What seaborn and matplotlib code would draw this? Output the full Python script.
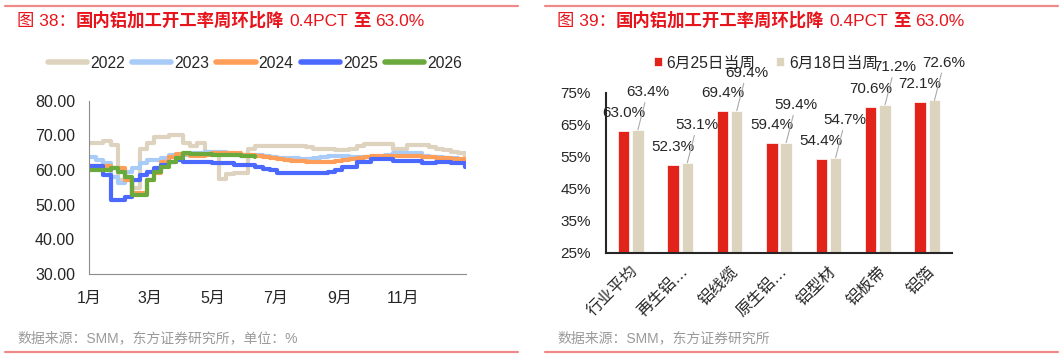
import matplotlib.pyplot as plt
from matplotlib.lines import Line2D
import numpy as np
import pandas as pd
import seaborn as sns

# weekly operating rate (%), one value per week from 1 Jan
years = ['2022', '2023', '2024', '2025', '2026']
rate_2022 = [67.7, 67.7, 68.5, 67.2, 57.1, 57.1, 54.8, 66.2, 67.7, 69.6,
             69.6, 70.1, 70.1, 67.7, 66.9, 67.9, 65.3, 65.3, 57.3, 58.8,
             59.2, 59.0, 66.2, 66.9, 67.0, 67.0, 67.0, 67.0, 66.9, 66.8,
             66.7, 66.2, 66.2, 66.0, 65.8, 65.8, 66.2, 67.0, 67.4, 67.4,
             67.4, 67.4, 66.2, 66.2, 67.2, 67.2, 67.2, 66.7, 66.2, 65.8,
             65.1, 64.8, 63.7]
rate_2023 = [63.7, 62.9, 61.9, 58.0, 56.2, 59.5, 60.5, 61.9, 62.9, 62.9,
             63.4, 64.3, 64.3, 64.3, 64.8, 64.8, 65.3, 65.3, 65.3, 64.8,
             64.3, 64.3, 64.3, 64.3, 64.0, 63.8, 63.6, 63.4, 63.4, 63.2,
             63.2, 63.4, 63.7, 64.0, 64.0, 64.0, 63.8, 63.8, 63.8, 63.8,
             63.9, 64.3, 64.8, 64.8, 64.8, 64.8, 64.0, 63.8, 63.8, 63.6,
             63.5, 63.0, 62.0]
rate_2024 = [61.2, 61.2, 61.2, 60.5, 60.5, 57.1, 53.3, 53.3, 57.1, 59.0,
             62.4, 63.8, 64.6, 64.6, 64.0, 64.0, 64.4, 64.8, 64.8, 64.8,
             64.8, 64.3, 64.3, 64.0, 63.8, 63.4, 63.1, 62.9, 62.7, 62.5,
             62.4, 62.4, 62.4, 62.4, 62.7, 62.9, 63.2, 63.6, 63.8, 64.0,
             64.0, 64.0, 64.0, 64.0, 64.0, 64.0, 63.9, 63.8, 63.6, 63.6,
             63.3, 63.1, 62.2]
rate_2025 = [61.2, 61.2, 58.5, 51.3, 51.3, 52.3, 57.1, 58.6, 59.5, 60.5,
             61.4, 62.4, 62.9, 62.4, 62.4, 62.4, 62.4, 61.9, 61.9, 61.9,
             61.4, 61.4, 61.4, 60.8, 60.4, 60.0, 59.0, 59.0, 59.0, 59.0,
             59.0, 59.0, 59.0, 59.5, 60.0, 61.0, 61.0, 62.4, 62.4, 63.1,
             63.1, 63.1, 62.7, 62.7, 62.7, 62.7, 61.9, 61.9, 62.4, 62.4,
             61.9, 61.9, 61.0]
rate_2026 = [60.0, 60.0, 60.0, 60.5, 59.5, 58.0, 52.8, 52.8, 57.1, 59.5,
             61.0, 62.4, 63.4, 65.0, 64.6, 64.6, 64.6, 64.3, 64.3, 64.3,
             64.3, 64.0, 64.0, 63.8]
line_colors = ['#DDD3BE', '#A9CBF8', '#FF9E58', '#4B69FF', '#6AAA3C']
month_ticks = [0, 59, 120, 181, 243, 304]
month_labels = ['1月', '3月', '5月', '7月', '9月', '11月']

# bar chart: operating rate by segment (%)
categories = ['行业平均', '再生铝…', '铝线缆', '原生铝…', '铝型材', '铝板带', '铝箔']
week_labels = ['6月25日当周', '6月18日当周']
rate_0625 = [63.0, 52.3, 69.4, 59.4, 54.4, 70.6, 72.1]
rate_0618 = [63.4, 53.1, 69.4, 59.4, 54.7, 71.2, 72.6]
bar_colors = ['#E2231A', '#DDD4BF']

RED = '#E8141C'
sns.set_style('white')
plt.rcParams['font.family'] = ['Liberation Sans', 'Noto Sans CJK SC']
plt.rcParams['axes.unicode_minus'] = False

series = [rate_2022, rate_2023, rate_2024, rate_2025, rate_2026]
rows = []
for year, vals in zip(years, series):
    for i, v in enumerate(vals):
        rows.append({'day': i * 7, 'rate': v, 'year': year})
df_lines = pd.DataFrame(rows)

df_bars = pd.DataFrame({
    'segment': categories * 2,
    'rate': rate_0625 + rate_0618,
    'week': [week_labels[0]] * len(categories) + [week_labels[1]] * len(categories),
})

W, H = 1061, 358
fig = plt.figure(figsize=(W / 100, H / 100), dpi=100)

# ---- left: line chart ----
ax1 = fig.add_axes([89 / W, 1 - 274 / H, (466 - 89) / W, (274 - 100.7) / H])
sns.lineplot(data=df_lines, x='day', y='rate', hue='year', palette=line_colors,
             linewidth=3, drawstyle='steps-post', estimator=None, ax=ax1)
ax1.set_xlim(0, 365)
ax1.set_ylim(30, 80)
ax1.set_yticks(np.arange(30, 81, 10))
ax1.set_yticklabels([f'{v:.2f}' for v in range(30, 81, 10)])
ax1.set_xticks(month_ticks)
ax1.set_xticklabels(month_labels)
ax1.set_xlabel('')
ax1.set_ylabel('')
for s in ['top', 'right']:
    ax1.spines[s].set_visible(False)
for s in ['left', 'bottom']:
    ax1.spines[s].set_color('#8c8c8c')
    ax1.spines[s].set_linewidth(0.8)
ax1.tick_params(axis='y', direction='out', length=4, color='#8c8c8c', labelsize=11.5, pad=6)
ax1.tick_params(axis='x', direction='in', length=4, color='#8c8c8c', labelsize=11.5, pad=12)
handles, labels = ax1.get_legend_handles_labels()
ax1.get_legend().remove()
for h in handles:
    h.set_linewidth(4)
    h.set_solid_capstyle('round')
fig.legend(handles, labels, loc='center', bbox_to_anchor=(255 / W, 1 - 63 / H),
           ncol=5, frameon=False, fontsize=11.3, handlelength=2.5,
           handletextpad=0.2, columnspacing=0.45)

# ---- right: bar chart ----
ax2 = fig.add_axes([606 / W, 1 - 252.7 / H, (952 - 606) / W, (252.7 - 92.7) / H])
sns.barplot(data=df_bars, x='segment', y='rate', hue='week', palette=bar_colors,
            width=0.58, gap=0.2, saturation=1, edgecolor='white', linewidth=0.5, ax=ax2)
ax2.set_ylim(25, 75)
ax2.set_xlim(-0.5, len(categories) - 0.5)
ax2.set_yticks(np.arange(25, 76, 10))
ax2.set_yticklabels([f'{v}%' for v in range(25, 76, 10)])
ax2.set_xticks(range(len(categories)))
ax2.set_xticklabels(categories, rotation=45, ha='right', rotation_mode='anchor')
ax2.set_xticks(np.arange(-0.5, len(categories)), minor=True)
ax2.set_xlabel('')
ax2.set_ylabel('')
for s in ['top', 'right']:
    ax2.spines[s].set_visible(False)
for s in ['left', 'bottom']:
    ax2.spines[s].set_color('#262626')
    ax2.spines[s].set_linewidth(1.5)
ax2.tick_params(axis='y', direction='in', length=4, width=1.2, color='#262626', labelsize=11, pad=11)
ax2.tick_params(axis='x', which='major', length=0, labelsize=11.5, pad=8)
ax2.tick_params(axis='x', which='minor', direction='out', length=4, width=1.2, color='#262626')

red_bars, beige_bars = ax2.containers[0], ax2.containers[1]
ax2.bar_label(red_bars, labels=[f'{v:.1f}%' for v in rate_0625], padding=8, fontsize=11)
for bar, v in zip(beige_bars, rate_0618):
    cx = bar.get_x() + bar.get_width() / 2
    ax2.annotate(f'{v:.1f}%', xy=(cx, bar.get_height()), xytext=(7, 22),
                 textcoords='offset points', ha='center', va='bottom', fontsize=11,
                 arrowprops=dict(arrowstyle='-', color='#aaaaaa', lw=0.8,
                                 shrinkA=0, shrinkB=0))
h2, l2 = ax2.get_legend_handles_labels()
ax2.get_legend().remove()
fig.legend(h2, l2, loc='center', bbox_to_anchor=(766 / W, 1 - 63 / H), ncol=2,
           frameon=False, fontsize=11.3, handlelength=0.5, handleheight=0.5,
           handletextpad=0.3, columnspacing=1.3)


# ---- titles, sources, rules ----
def draw_title(x_px, number):
    # CJK words bold, numbers regular, laid out one piece after another
    parts = [(f'图 {number}：', 'normal', 0), ('国内铝加工开工率周环比降', 'bold', 0),
             ('0.4PCT', 'normal', 5), ('至', 'bold', 5), ('63.0%', 'normal', 5)]
    renderer = fig.canvas.get_renderer()
    x = x_px
    for txt, weight, gap in parts:
        x += gap
        t = fig.text(x / W, 1 - 26 / H, txt, color=RED, fontsize=12.5,
                     fontweight=weight, va='baseline')
        x = t.get_window_extent(renderer).x1


draw_title(17, 38)
draw_title(557, 39)
fig.text(17 / W, 1 - 338 / H, '数据来源：SMM，东方证券研究所，单位：%',
         color='#9a9a9a', fontsize=10, va='center')
fig.text(557 / W, 1 - 338 / H, '数据来源：SMM，东方证券研究所',
         color='#9a9a9a', fontsize=10, va='center')
for x0, x1 in [(5, 518), (545, 1058)]:
    for y in [5.5, 351.5]:
        fig.add_artist(Line2D([x0 / W, x1 / W], [1 - y / H] * 2,
                              color='#F08A8A', lw=1.6))

fig.savefig('out.png', dpi=100)
